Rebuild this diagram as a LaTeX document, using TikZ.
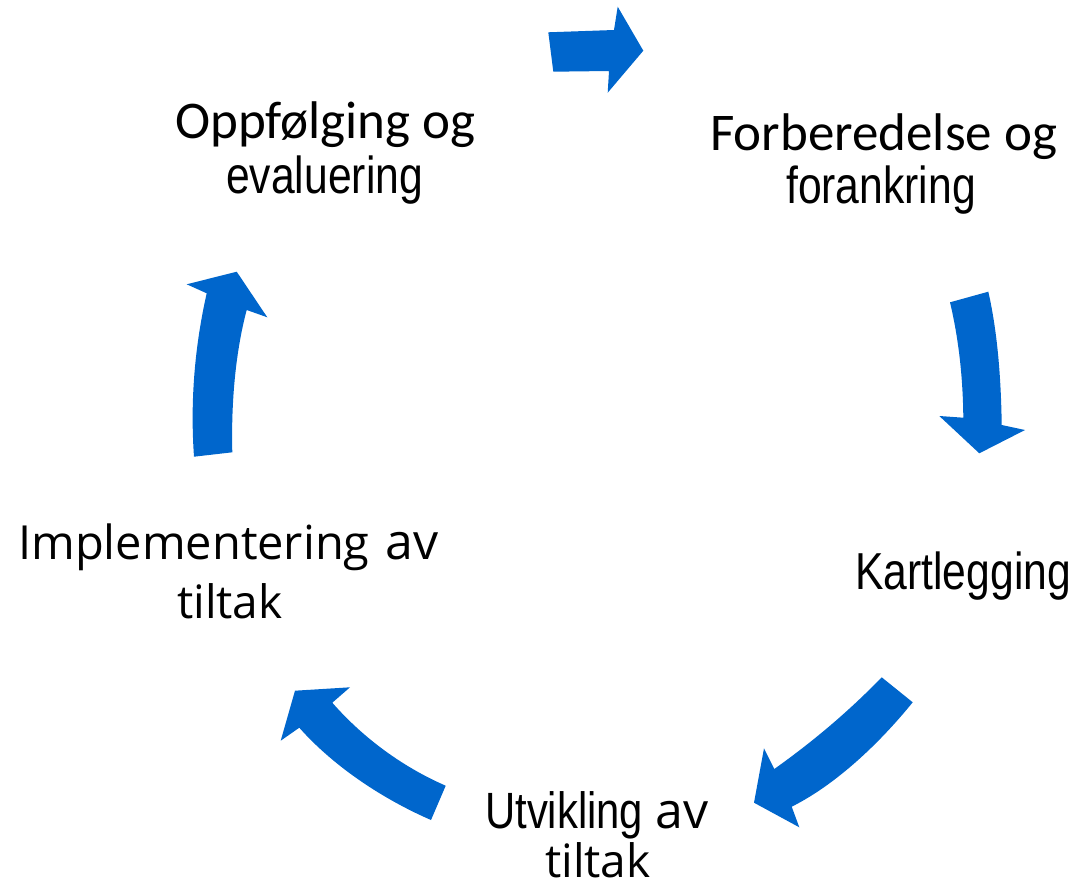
\documentclass[tikz,border=0pt]{standalone}
\usepackage{fontspec}
\setmainfont{Carlito}
\newfontfamily\calib{Carlito}
\newfontfamily\narrow[FakeStretch=0.82]{Liberation Sans}
\newfontfamily\segoe{Open Sans}
\definecolor{arrowblue}{RGB}{0,102,204}
\tikzset{
  blockarrow/.style={fill=arrowblue, draw=none},
  lbl/.style={anchor=base west, inner sep=0pt, text=black}
}
\begin{document}
\begin{tikzpicture}[x=1pt,y=-1pt]
\useasboundingbox (0,0) rectangle (1078,888);
% arrow 1 (top)
\fill[blockarrow] (548.3,32.3) -- (614,30) -- (617.7,6.7) -- (643.3,50.7) -- (607.7,92.7) -- (609,71) -- (553.3,71.7) -- cycle;
% arrow 2 (right)
\fill[blockarrow] (950,302.3) .. controls (959,340) and (963,380) .. (963.3,417.7) -- (939.3,416) -- (979.3,453.3) -- (1025,430) -- (1001.7,425) .. controls (1001,375) and (997,330) .. (988.3,291.7) -- cycle;
% arrow 3 (lower right)
\fill[blockarrow] (881.7,677.3) .. controls (850,710) and (815,740) .. (774.3,769) -- (764,748.3) -- (754,802.7) -- (799.3,827.3) -- (791.7,806.7) .. controls (835,785) and (878,745) .. (912.7,702.3) -- cycle;
% arrow 4 (lower left)
\fill[blockarrow] (445.7,785.7) .. controls (405,768) and (365,740) .. (332.3,702.7) -- (350,687.3) -- (295,690.7) -- (280.7,740.7) -- (299.3,727.7) .. controls (335,768) and (385,800) .. (431,820) -- cycle;
% arrow 5 (left)
\fill[blockarrow] (194,456.7) .. controls (190,400) and (195,345) .. (206.7,293.3) -- (186.7,284.3) -- (236.7,271.7) -- (267.3,317.3) -- (246.7,310) .. controls (236,350) and (231,400) .. (232.3,452.3) -- cycle;
% labels
\node[lbl] (opp1) at (175,139) {\fontsize{53}{60}\calib Oppfølging og};
\node[lbl] (opp2) at (226,193) {\fontsize{52}{60}\narrow evaluering};
\node[lbl] (for1) at (710,150) {\fontsize{53}{60}\calib Forberedelse og};
\node[lbl] (for2) at (786,203) {\fontsize{52}{60}\narrow forankring};
\node[lbl] (kart) at (855,589) {\fontsize{52}{60}\narrow Kartlegging};
\node[lbl] (imp1) at (18,559) {\fontsize{47}{60}\segoe Implementering};
\node[lbl] (imp1b) at (385,559) {\fontsize{50}{60}\segoe av};
\node[lbl] (imp2) at (177,618) {\fontsize{46}{60}\segoe tiltak};
\node[lbl] (utv1) at (485,828) {\fontsize{51}{60}\narrow Utvikling};
\node[lbl] (utv1b) at (655,828) {\fontsize{50}{60}\segoe av};
\node[lbl] (utv2) at (545,877) {\fontsize{46}{60}\segoe tiltak};
\end{tikzpicture}
\end{document}
